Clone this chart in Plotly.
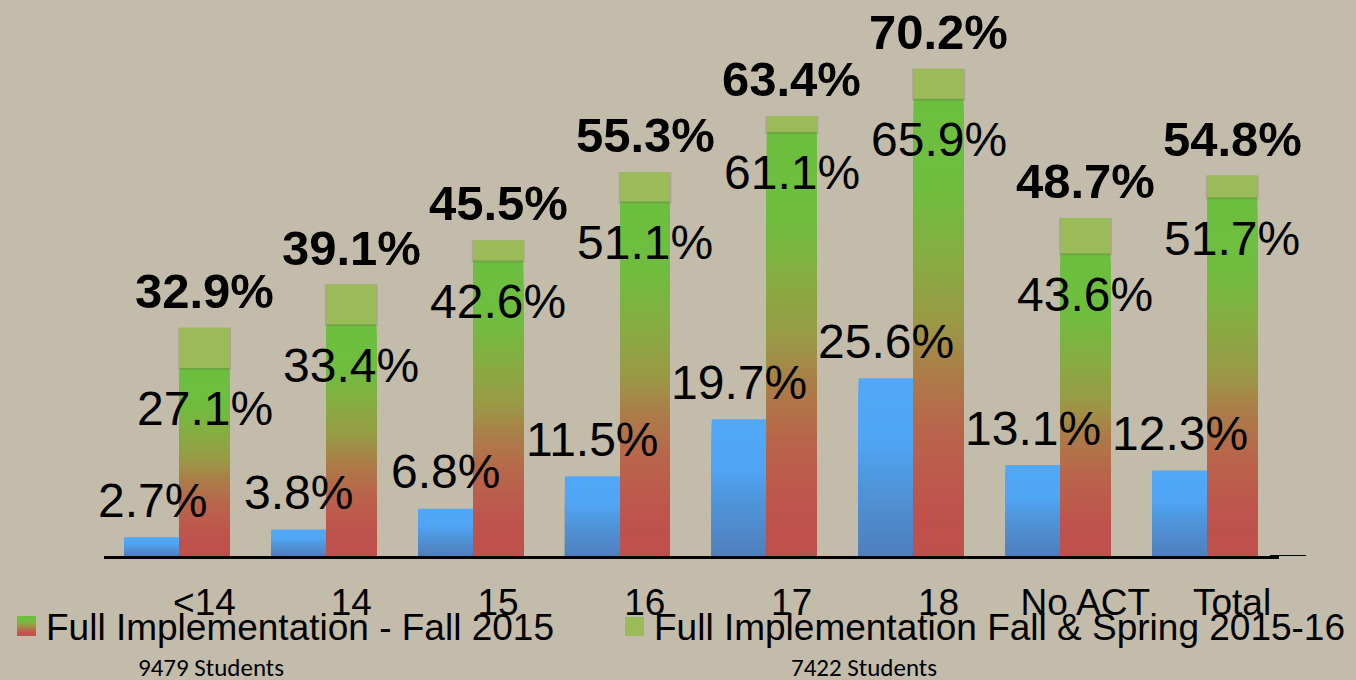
import plotly.graph_objects as go

# ---------------- data ----------------
categories = ["<14", "14", "15", "16", "17", "18", "No ACT", "Total"]
baseline_pct = [2.7, 3.8, 6.8, 11.5, 19.7, 25.6, 13.1, 12.3]
fall_2015_pct = [27.1, 33.4, 42.6, 51.1, 61.1, 65.9, 43.6, 51.7]
fall_spring_pct = [32.9, 39.1, 45.5, 55.3, 63.4, 70.2, 48.7, 54.8]
legend_names = ["Full Implementation - Fall 2015", "Full Implementation Fall & Spring 2015-16"]
student_notes = ["9479 Students", "7422 Students"]

# ---------------- styling helpers ----------------
W, H = 1356, 680
BG = "#C3BCAB"
FONT = "Liberation Sans, Arial, sans-serif"

BLUE_OFF, BLUE_W = -0.36, 0.375
GRAD_OFF, GRAD_W = 0.015, 0.34


def hex2rgb(h):
    h = h.lstrip("#")
    return tuple(int(h[i:i + 2], 16) for i in (0, 2, 4))


def interp(stops, t):
    t = max(stops[0][0], min(stops[-1][0], t))
    for (t0, c0), (t1, c1) in zip(stops[:-1], stops[1:]):
        if t0 <= t <= t1:
            f = 0 if t1 == t0 else (t - t0) / (t1 - t0)
            a, b = hex2rgb(c0), hex2rgb(c1)
            return "rgb(%d,%d,%d)" % tuple(round(a[i] + (b[i] - a[i]) * f) for i in range(3))
    return stops[-1][1]


# gradient stops as a fraction of each bar's height (bottom = 0, top = 1)
grad_stops = [(0, "#C0504D"), (0.1, "#BF524D"), (0.27, "#B9644B"), (0.4, "#AC7C48"),
              (0.52, "#989B45"), (0.67, "#84AF42"), (0.8, "#6FBD3F"), (1, "#6CBF3E")]
blue_stops = [(0, "#4F7FBD"), (0.4, "#4F95DA"), (0.65, "#50A5F5"), (1, "#52A8F8")]

fig = go.Figure()

# blue bars (vertical gradient, drawn as overlapping slices from the top down)
NB = 40
for k in range(NB, 0, -1):
    fig.add_trace(go.Bar(
        x=categories, y=[v * k / NB for v in baseline_pct],
        offset=BLUE_OFF, width=BLUE_W,
        marker=dict(color=[interp(blue_stops, (k - 0.5) / NB) for _ in baseline_pct], line_width=0),
        showlegend=False, hoverinfo="skip"))

# gradient bars (Fall 2015)
NG = 90
for k in range(NG, 0, -1):
    fig.add_trace(go.Bar(
        x=categories, y=[v * k / NG for v in fall_2015_pct],
        offset=GRAD_OFF, width=GRAD_W,
        marker=dict(color=[interp(grad_stops, (k - 0.5) / NG) for _ in fall_2015_pct], line_width=0),
        showlegend=False, hoverinfo="skip"))

# soft shadow behind caps
fig.add_trace(go.Bar(
    x=categories, y=[t - f + 0.3 for f, t in zip(fall_2015_pct, fall_spring_pct)],
    base=[f - 0.3 for f in fall_2015_pct],
    offset=GRAD_OFF - 0.01, width=GRAD_W + 0.02,
    marker=dict(color="rgba(90,85,70,0.22)", line_width=0),
    showlegend=False, hoverinfo="skip"))

# caps (Fall & Spring)
fig.add_trace(go.Bar(
    x=categories, y=[t - f for f, t in zip(fall_2015_pct, fall_spring_pct)],
    base=fall_2015_pct, offset=GRAD_OFF, width=GRAD_W,
    marker=dict(color="#9BBB59", line_width=0),
    name=legend_names[1], showlegend=False, hoverinfo="skip"))

annotations = []
for i, (b, f, t) in enumerate(zip(baseline_pct, fall_2015_pct, fall_spring_pct)):
    bx = i + BLUE_OFF + BLUE_W / 2
    gx = i + GRAD_OFF + GRAD_W / 2
    annotations.append(dict(x=bx, y=b, text=f"{b}%", showarrow=False, yshift=37,
                            font=dict(size=48, color="black", family=FONT)))
    annotations.append(dict(x=gx, y=f, text=f"{f}%", showarrow=False, yshift=-41,
                            font=dict(size=48, color="black", family=FONT)))
    annotations.append(dict(x=gx, y=t, text=f"<b>{t}%</b>", showarrow=False, yshift=37,
                            font=dict(size=49, color="black", family=FONT)))

# legend (manual)
annotations.append(dict(xref="paper", yref="paper", x=44 / W, y=1 - 627 / H, xanchor="left",
                        yanchor="middle", text=legend_names[0], showarrow=False,
                        font=dict(size=37, color="black", family=FONT)))
annotations.append(dict(xref="paper", yref="paper", x=652 / W, y=1 - 627 / H, xanchor="left",
                        yanchor="middle", text=legend_names[1], showarrow=False,
                        font=dict(size=37, color="black", family=FONT)))
annotations.append(dict(xref="paper", yref="paper", x=211 / W, y=1 - 667 / H, xanchor="center",
                        yanchor="middle", text=student_notes[0], showarrow=False,
                        font=dict(size=25, color="black", family="Carlito, Lato, sans-serif")))
annotations.append(dict(xref="paper", yref="paper", x=864 / W, y=1 - 667 / H, xanchor="center",
                        yanchor="middle", text=student_notes[1], showarrow=False,
                        font=dict(size=25, color="black", family="Carlito, Lato, sans-serif")))

shapes = []
# gradient legend marker
NM = 10
for k in range(NM):
    y0 = 636 - 20 * k / NM
    y1 = 636 - 20 * (k + 1) / NM
    shapes.append(dict(type="rect", xref="paper", yref="paper", x0=17 / W, x1=36 / W,
                       y0=1 - y0 / H, y1=1 - y1 / H, line_width=0,
                       fillcolor=interp(grad_stops, (k + 0.5) / NM)))
shapes.append(dict(type="rect", xref="paper", yref="paper", x0=625 / W, x1=644 / W,
                   y0=1 - 636 / H, y1=1 - 617 / H, line_width=0, fillcolor="#9BBB59"))
# extension of the baseline
shapes.append(dict(type="line", xref="paper", yref="y", x0=1270 / W, x1=1306 / W, y0=0, y1=0,
                   line=dict(color="black", width=2)))

fig.update_layout(
    width=W, height=H,
    margin=dict(l=0, r=0, t=0, b=0),
    paper_bgcolor=BG, plot_bgcolor=BG,
    barmode="overlay",
    showlegend=False,
    annotations=annotations,
    shapes=shapes,
    xaxis=dict(domain=[104 / W, 1278.5 / W], type="category", categoryarray=categories,
               range=[-0.5, len(categories) - 0.5], showgrid=False, zeroline=False,
               showline=True, linecolor="black", linewidth=3, ticks="",
               ticklabelshift=27, ticklabelstandoff=12,
               tickfont=dict(size=37, color="black", family=FONT)),
    yaxis=dict(domain=[124 / H, 1], range=[0, 80.1], visible=False, showgrid=False,
               zeroline=False),
)

fig.write_html("out.html", config={"displayModeBar": False},
               post_script="document.body.style.margin='0';document.body.style.overflow='hidden';")
